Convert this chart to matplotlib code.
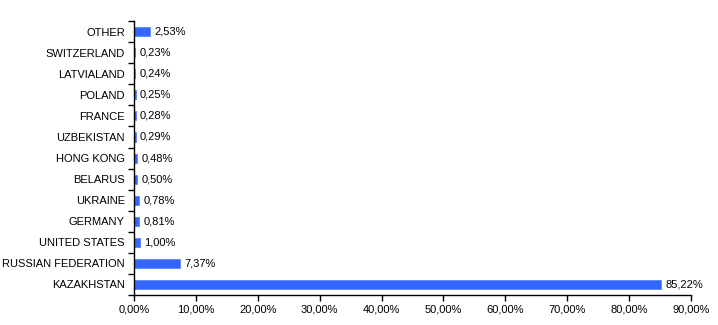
import matplotlib.pyplot as plt
import numpy as np
from matplotlib.ticker import FixedLocator, FuncFormatter

countries = ["KAZAKHSTAN", "RUSSIAN FEDERATION", "UNITED STATES", "GERMANY", "UKRAINE",
             "BELARUS", "HONG KONG", "UZBEKISTAN", "FRANCE", "POLAND", "LATVIALAND",
             "SWITZERLAND", "OTHER"]
shares = [85.22, 7.37, 1.00, 0.81, 0.78, 0.50, 0.48, 0.29, 0.28, 0.25, 0.24, 0.23, 2.53]
x_ticks = list(range(0, 91, 10))

plt.rcParams["font.family"] = ["Liberation Sans", "DejaVu Sans"]

fig = plt.figure(figsize=(7.18, 3.25), dpi=100)
ax = fig.add_axes([0.1866, 0.0923, 0.7758, 0.8427])

y = np.arange(len(countries))
ax.barh(y, shares, height=0.43, color="#3366ff", edgecolor="#5a85ff", linewidth=0.6)
for yi, v in zip(y, shares):
    ax.text(v + 0.7, yi, f"{v:.2f}%".replace(".", ","), va="center", ha="left",
            fontsize=8, color="black")

ax.set_xlim(0, 90)
ax.set_ylim(-0.5, len(countries) - 0.5)
ax.set_xticks(x_ticks)
ax.xaxis.set_major_formatter(FuncFormatter(lambda v, p: f"{v:.2f}%".replace(".", ",")))
ax.set_yticks(y)
ax.set_yticklabels(countries)
ax.yaxis.set_minor_locator(FixedLocator(np.arange(-0.5, len(countries), 1.0)))
ax.tick_params(axis="y", which="major", length=0, pad=6.5, labelsize=8)
ax.tick_params(axis="y", which="minor", length=4, width=1, color="black")
ax.tick_params(axis="x", length=4, width=1, labelsize=8, pad=3)

for s in ["top", "right"]:
    ax.spines[s].set_visible(False)
for s in ["left", "bottom"]:
    ax.spines[s].set_linewidth(1)
    ax.spines[s].set_color("black")

fig.savefig("out.png", dpi=100)
